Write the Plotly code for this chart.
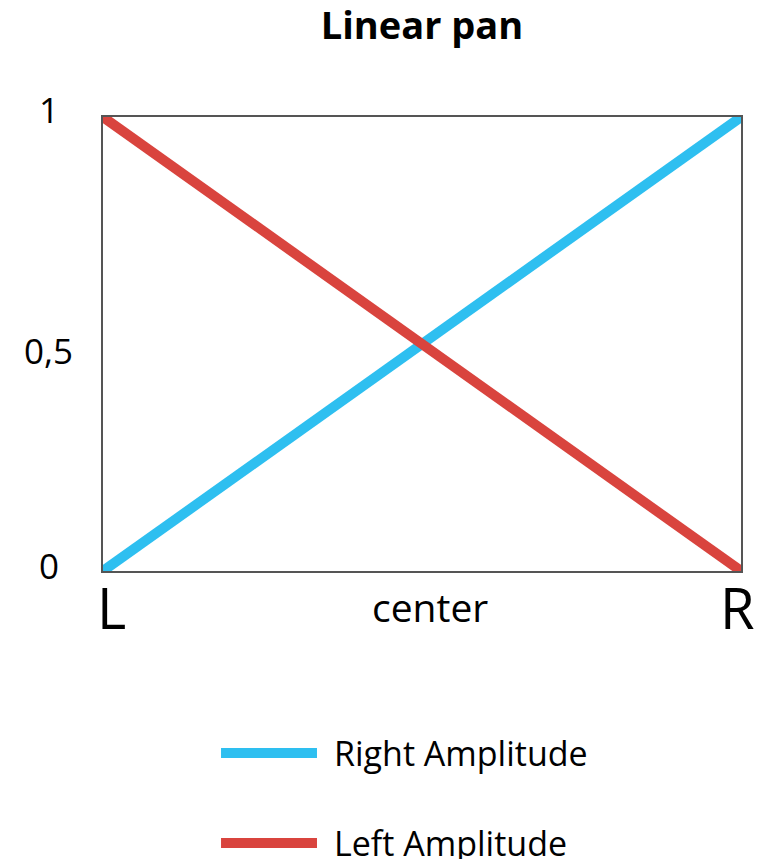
import plotly.graph_objects as go

# ---- data ----
pan_positions = [0, 1]
right_amplitude = [0, 1]
left_amplitude = [1, 0]
series_names = ["Right Amplitude", "Left Amplitude"]
x_tick_vals = [0, 0.5, 1]
x_tick_text = ["L", "center", "R"]
y_tick_vals = [0, 0.5, 1]
y_tick_text = ["0", "0,5", "1"]

BLUE = "#2EBFF0"
RED = "#D9443E"
FONT = "Open Sans"

fig = go.Figure()
fig.add_trace(go.Scatter(x=pan_positions, y=right_amplitude, mode="lines",
                         name=series_names[0], line=dict(color=BLUE, width=10),
                         cliponaxis=False, showlegend=False))
fig.add_trace(go.Scatter(x=pan_positions, y=left_amplitude, mode="lines",
                         name=series_names[1], line=dict(color=RED, width=10),
                         cliponaxis=False, showlegend=False))

annotations = []
# y tick labels (centered as in the reference)
y_shift = {"0": 6, "0,5": -6, "1": 8}
for v, t in zip(y_tick_vals, y_tick_text):
    annotations.append(dict(x=-0.085, xref="paper", y=v, yref="y", yshift=y_shift[t],
                            text=t, showarrow=False, xanchor="center", yanchor="middle",
                            font=dict(family=FONT, size=35, color="black")))
# x tick labels
x_sizes = {"L": 56, "center": 39, "R": 56}
x_shift = {"L": 8, "center": 8, "R": -4}
for v, t in zip(x_tick_vals, x_tick_text):
    annotations.append(dict(x=v, xref="x", y=-0.079, yref="paper", xshift=x_shift[t],
                            text=t, showarrow=False, xanchor="center", yanchor="middle",
                            font=dict(family=FONT, size=x_sizes[t], color="black")))

# custom legend (long line samples)
legend_rows = [(-0.401, BLUE, series_names[0]), (-0.599, RED, series_names[1])]
shapes = []
for yp, col, name in legend_rows:
    shapes.append(dict(type="line", xref="paper", yref="paper", x0=0.185, x1=0.3354,
                       y0=yp, y1=yp, line=dict(color=col, width=10)))
    annotations.append(dict(x=0.359, xref="paper", y=yp, yref="paper", text=name,
                            showarrow=False, xanchor="left", yanchor="middle",
                            font=dict(family=FONT, size=34, color="black")))

axis_common = dict(showline=True, mirror=True, linecolor="#555555", linewidth=1.5,
                   showgrid=False, zeroline=False, showticklabels=False, ticks="",
                   layer="below traces", fixedrange=True)

fig.update_layout(
    width=767, height=859,
    margin=dict(l=95, r=34, t=109, b=296),
    paper_bgcolor="white", plot_bgcolor="white",
    title=dict(text="<b>Linear pan</b>", x=0.5, xref="paper", xanchor="center",
               y=1 - 18 / 859, yref="container", yanchor="middle",
               font=dict(family=FONT, size=38, color="black")),
    xaxis=dict(range=[0, 1], **axis_common),
    yaxis=dict(range=[0, 1], **axis_common),
    annotations=annotations,
    shapes=shapes,
    showlegend=False,
)

fig.write_html("out.html")
